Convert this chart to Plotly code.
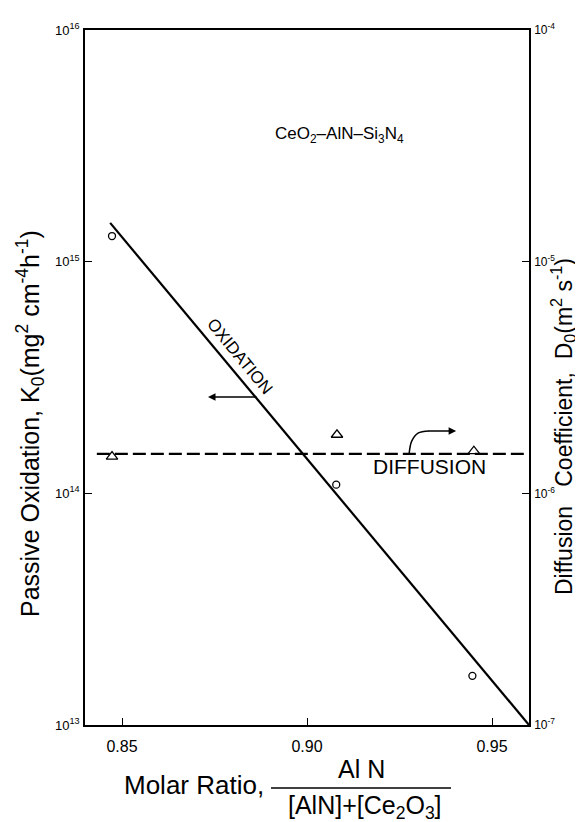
import numpy as np
import plotly.graph_objects as go

# ---------------- data ----------------
ox_x = [0.8473, 0.9079, 0.9447]          # molar ratio (circles)
ox_k = [1.29e15, 1.09e14, 1.63e13]       # passive oxidation K0
ox_fit_x = [0.8468, 0.9600]
ox_fit_k = [1.47e15, 1.0e13]

dif_x = [0.8473, 0.9081, 0.9451]         # triangles
dif_d = [1.44e-6, 1.79e-6, 1.52e-6]      # diffusion coefficient D0
dif_fit_x = [0.8432, 0.9586]
dif_fit_d = [1.48e-6, 1.48e-6]

x_ticks = [0.85, 0.90, 0.95]
x_ticklabels = ["0.85", "0.90", "0.95"]
y1_ticks = [1e13, 1e14, 1e15, 1e16]
y1_ticklabels = ["10<sup>13</sup>", "10<sup>14</sup>", "10<sup>15</sup>", "10<sup>16</sup>"]
y2_ticks = [1e-7, 1e-6, 1e-5, 1e-4]
y2_ticklabels = ["10<sup>-7</sup>", "10<sup>-6</sup>", "10<sup>-5</sup>", "10<sup>-4</sup>"]

FONT = "Liberation Sans"
W, H = 583, 822
L, R, T, B = 77, 521, 22, 717

def px(xp):
    return (xp - L) / (R - L)

def py(yp):
    return (B - yp) / (B - T)

fig = go.Figure()

fig.add_trace(go.Scatter(x=ox_fit_x, y=ox_fit_k, mode="lines",
                         line=dict(color="black", width=2.2), showlegend=False))
fig.add_trace(go.Scatter(x=ox_x, y=ox_k, mode="markers",
                         marker=dict(symbol="circle-open", size=7, color="black",
                                     line=dict(width=1.3)), showlegend=False))
fig.add_trace(go.Scatter(x=dif_fit_x, y=dif_fit_d, mode="lines", yaxis="y2",
                         line=dict(color="black", width=2.2, dash="13px,5px"),
                         showlegend=False))
fig.add_trace(go.Scatter(x=dif_x, y=dif_d, mode="markers", yaxis="y2",
                         marker=dict(symbol="triangle-up-open", size=10, color="black",
                                     line=dict(width=1.3)), showlegend=False))

# curved arrow for diffusion -> right axis
fig.add_trace(go.Scatter(x=[0.9276, 0.9283, 0.9300, 0.9330],
                         y=[1.48e-6, 1.68e-6, 1.82e-6, 1.86e-6], yaxis="y2",
                         mode="lines", line=dict(color="black", width=1.5, shape="spline"),
                         showlegend=False))

axis_common = dict(showline=True, linecolor="black", linewidth=1.6, ticks="inside",
                   ticklen=7, tickcolor="black", tickwidth=1.3, showgrid=False,
                   zeroline=False)

fig.update_layout(
    width=W, height=H,
    margin=dict(l=L, r=W - R, t=T, b=H - B),
    paper_bgcolor="white", plot_bgcolor="white",
    font=dict(family=FONT, color="black"),
    xaxis=dict(range=[0.84, 0.96], tickvals=x_ticks, ticktext=x_ticklabels,
               tickfont=dict(size=16), ticklabelstandoff=6, mirror=True,
               **axis_common),
    yaxis=dict(type="log", range=[13, 16], tickvals=y1_ticks, ticktext=y1_ticklabels,
               tickfont=dict(size=13), ticklabelstandoff=1, **axis_common),
    yaxis2=dict(type="log", range=[-7, -4], tickvals=y2_ticks, ticktext=y2_ticklabels,
                tickfont=dict(size=12), overlaying="y", side="right",
                ticklabelstandoff=1, **axis_common),
)

def note(text, x, y, size, angle=0, xanchor="center"):
    return dict(text=text, xref="paper", yref="paper", x=px(x), y=py(y),
                xanchor=xanchor, yanchor="middle", textangle=angle,
                showarrow=False, font=dict(size=size))

ann = [
    note("Passive Oxidation, K<sub>0</sub>(mg<sup>2</sup> cm<sup>-4</sup>h<sup>-1</sup>)",
         22, 416, 25, angle=-90),
    note("Diffusion   Coefficient,  D<sub>0</sub>(m<sup>2</sup> s<sup>-1</sup>)",
         555, 419, 23, angle=-90),
    note("Molar Ratio,", 186, 777, 26),
    note("Al N", 353, 761, 25),
    note("[AlN]+[Ce<sub>2</sub>O<sub>3</sub>]", 357, 799, 25),
    note("CeO<sub>2</sub>–AlN–Si<sub>3</sub>N<sub>4</sub>", 398, 127, 17, xanchor="right"),
    note("OXIDATION", 232, 348, 17, angle=50.6),
    note("DIFFUSION", 421, 458, 21),
]
# left arrow (oxidation -> left axis)
ann.append(dict(x=px(200), y=py(389), ax=50, ay=0, xref="paper", yref="paper",
                axref="pixel", ayref="pixel", showarrow=True, arrowhead=2, arrowsize=1,
                arrowwidth=1.5, arrowcolor="black", text=""))
# right arrow head
ann.append(dict(x=0.9403, y=np.log10(1.86e-6), ax=0.9325, ay=np.log10(1.86e-6),
                xref="x", yref="y2", axref="x", ayref="y2", showarrow=True,
                arrowhead=2, arrowsize=1, arrowwidth=1.5, arrowcolor="black", text=""))
fig.update_layout(annotations=ann)

# fraction bar
fig.add_shape(type="line", xref="paper", yref="paper", x0=px(263), x1=px(443),
              y0=py(780), y1=py(780), line=dict(color="black", width=1.5))

fig.write_html("out.html")
